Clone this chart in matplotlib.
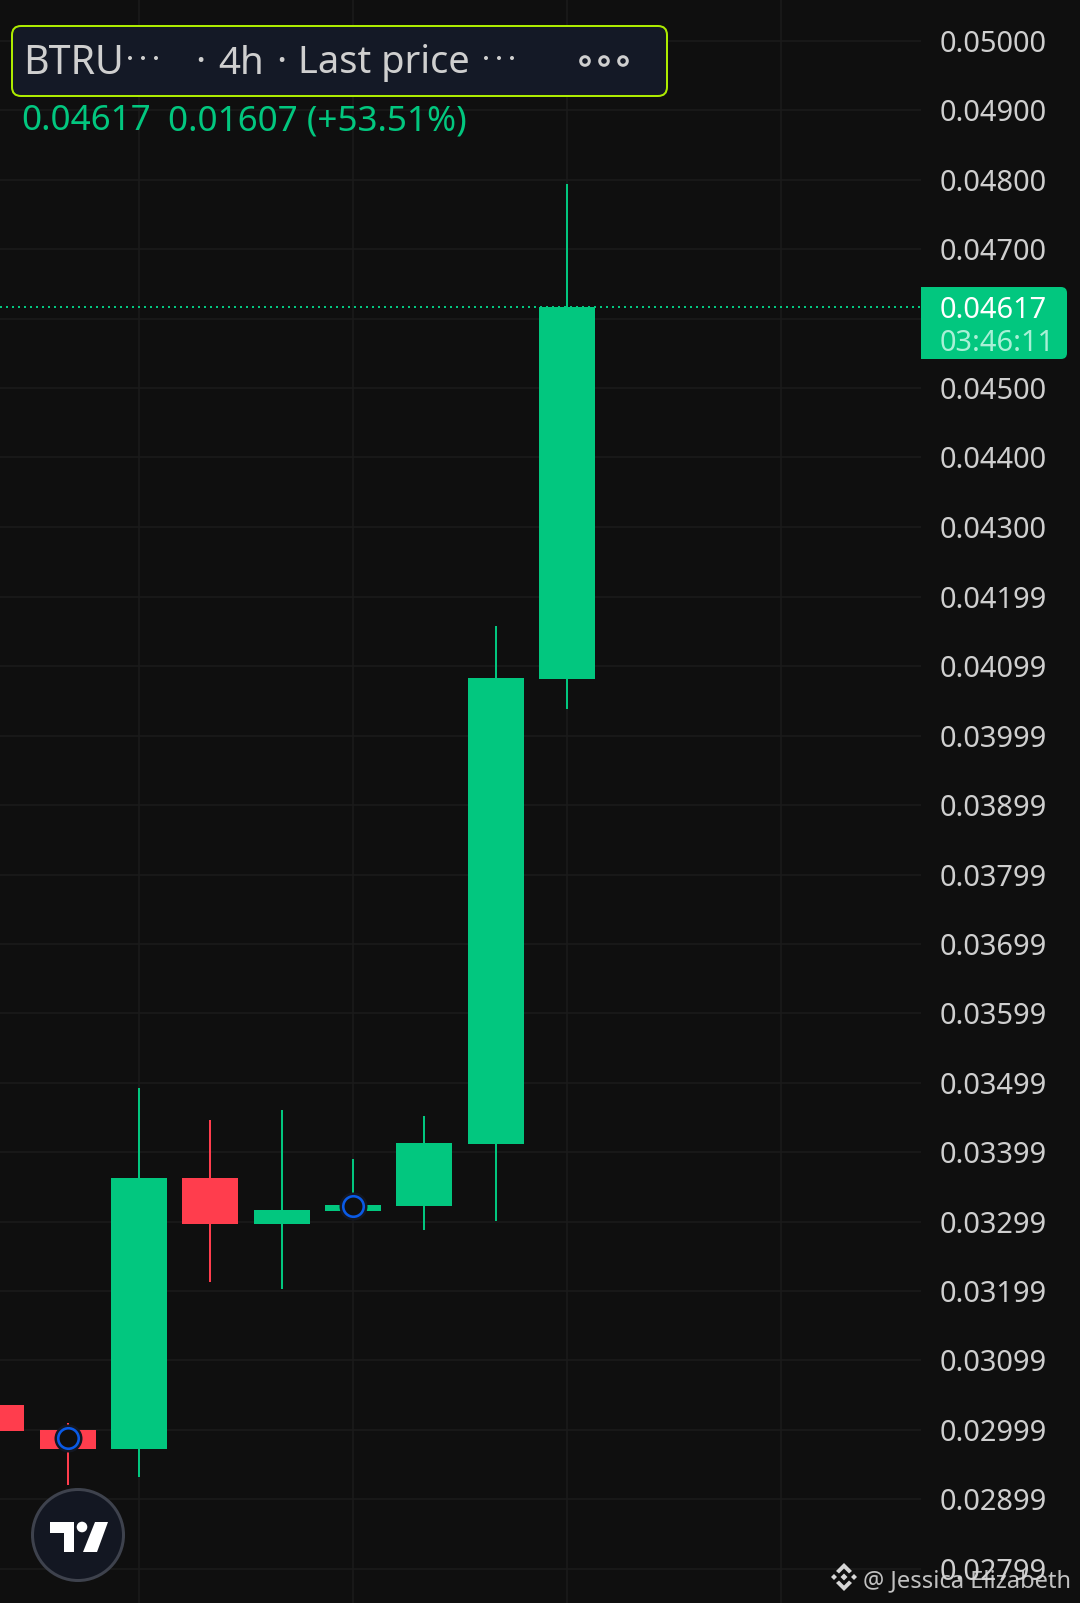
import matplotlib
matplotlib.use("Agg")
import matplotlib.pyplot as plt
from matplotlib.patches import FancyBboxPatch, Rectangle, Circle, Polygon

# ---- data ----
candle_idx = [-1, 0, 1, 2, 3, 4, 5, 6, 7]
opens  = [0.03035, 0.02999, 0.02971, 0.03362, 0.03295, 0.03314, 0.03321, 0.03411, 0.04081]
closes = [0.02997, 0.02971, 0.03362, 0.03295, 0.03316, 0.03323, 0.03412, 0.04082, 0.04617]
highs  = [0.03035, 0.03009, 0.03491, 0.03445, 0.03459, 0.03389, 0.03451, 0.04157, 0.04794]
lows   = [0.02997, 0.02919, 0.02931, 0.03212, 0.03202, 0.03314, 0.03287, 0.03300, 0.04037]
marker_idx = [0, 4]
marker_prices = [0.02987, 0.03321]
last_price = 0.04617
price_ticks = [0.05000, 0.04900, 0.04800, 0.04700, 0.04600, 0.04500, 0.04400, 0.04300,
               0.04199, 0.04099, 0.03999, 0.03899, 0.03799, 0.03699, 0.03599, 0.03499,
               0.03399, 0.03299, 0.03199, 0.03099, 0.02999, 0.02899, 0.02799]
tick_labels = ["0.05000", "0.04900", "0.04800", "0.04700", "", "0.04500", "0.04400", "0.04300",
               "0.04199", "0.04099", "0.03999", "0.03899", "0.03799", "0.03699", "0.03599", "0.03499",
               "0.03399", "0.03299", "0.03199", "0.03099", "0.02999", "0.02899", "0.02799"]
time_grid = [1, 4, 7, 10]

W, H = 1080, 1603
BG, GRID = "#0F0F0F", "#1B1B1B"
UP, DOWN = "#02C77F", "#FF3D4D"
TXT = "#CFCFCF"
FONT = "Noto Sans"
px = 0.72  # points per pixel at dpi 100

plt.rcParams["font.family"] = [FONT, "DejaVu Sans"]
fig = plt.figure(figsize=(W / 100, H / 100), dpi=100, facecolor=BG)

# ---- price chart ----
ax = fig.add_axes([0, 0, 921 / W, 1], facecolor=BG)
ax.set_xlim(-0.9500, 11.967)
ax.set_ylim(0.027493, 0.050591)
for s in ax.spines.values():
    s.set_visible(False)
ax.set_axisbelow(True)
ax.grid(True, color=GRID, lw=1.5 * px)
ax.set_xticks(time_grid)
ax.tick_params(axis="x", length=0, labelbottom=False)
ax.yaxis.tick_right()
ax.set_yticks(price_ticks)
ax.set_yticklabels(tick_labels)
ax.tick_params(axis="y", length=0, pad=19 * px, labelsize=29 * px, labelcolor=TXT)

colors = [UP if c >= o else DOWN for o, c in zip(opens, closes)]
ax.vlines(candle_idx, lows, highs, colors=colors, lw=2 * px, zorder=2)
ax.bar(candle_idx, [abs(c - o) for o, c in zip(opens, closes)],
       bottom=[min(o, c) for o, c in zip(opens, closes)],
       width=0.785, color=colors, linewidth=0, zorder=3)
ax.axhline(last_price, color=UP, lw=2 * px, ls=(0, (1, 2)), zorder=4)
ax.plot(marker_idx, marker_prices, ls="none", marker="o", ms=28 * px, mfc="#131722",
        mec="#131722", mew=0, zorder=5)
ax.plot(marker_idx, marker_prices, ls="none", marker="o", ms=20.5 * px, mfc=BG,
        mec="#0A5AE6", mew=2.6 * px, zorder=6)

# ---- chrome overlay in pixel coordinates ----
ov = fig.add_axes([0, 0, 1, 1], facecolor="none")
ov.set_xlim(0, W)
ov.set_ylim(H, 0)
ov.axis("off")

ov.add_patch(FancyBboxPatch((12, 26), 655, 70, boxstyle="round,pad=0,rounding_size=9",
                            fc="#141926", ec="#ADEB00", lw=2 * px, zorder=5))
hdr = dict(color=TXT, fontsize=38.5 * px, va="center_baseline", ha="left", zorder=6)
ov.text(23, 59, "BTRU", **dict(hdr, fontsize=39.5 * px))
ov.text(195, 59, "·", **hdr)
ov.text(218, 59, "4h", **hdr)
ov.text(276, 59, "·", **hdr)
ov.text(298, 59, "Last price", **dict(hdr, fontsize=38 * px))
for x0 in (130, 143, 156, 486, 499, 512):
    ov.add_patch(Circle((x0, 58), 2.0, fc=TXT, ec="none", zorder=6))
for x0 in (585, 604, 623):
    ov.add_patch(Circle((x0, 61), 4.3, fc="none", ec=TXT, lw=3 * px, zorder=6))

ov.text(21, 117, f"{last_price:.5f}", color=UP, fontsize=35 * px, va="center_baseline", ha="left")
ov.text(168.5, 117, "0.01607 (+53.51%)", color=UP, fontsize=35 * px, va="center_baseline", ha="left")

# last-price tag
ov.add_patch(FancyBboxPatch((921, 287), 146, 72, boxstyle="round,pad=0,rounding_size=6",
                            fc=UP, ec="none", zorder=5))
ov.add_patch(Rectangle((921, 287), 20, 72, fc=UP, ec="none", zorder=5))
ov.text(940, 307, f"{last_price:.5f}", color="white", fontsize=29 * px,
        va="center_baseline", ha="left", zorder=6)
ov.text(940, 340, "03:46:11", color="#A9F0D6", fontsize=29 * px,
        va="center_baseline", ha="left", zorder=6)

# TradingView badge
ov.add_patch(Circle((78, 1535), 45.5, fc="#131722", ec="#3E424D", lw=3 * px, zorder=5))
ov.add_patch(Polygon([(50, 1522), (74, 1522), (74, 1552), (63.5, 1552), (63.5, 1533), (50, 1533)],
                     closed=True, fc="white", ec="none", zorder=6))
ov.add_patch(Circle((82, 1527), 5.3, fc="white", ec="none", zorder=6))
ov.add_patch(Polygon([(95, 1522), (108, 1522), (97, 1552), (83, 1552)],
                     closed=True, fc="white", ec="none", zorder=6))

# watermark
WM = "#D6D6D6"
cx, cy = 844, 1577
ov.add_patch(Polygon([(cx, cy - 3.5), (cx + 3.5, cy), (cx, cy + 3.5), (cx - 3.5, cy)], fc=WM, ec="none", zorder=7))
for dx in (-10, 10):
    ov.add_patch(Polygon([(cx + dx, cy - 3), (cx + dx + 3, cy), (cx + dx, cy + 3), (cx + dx - 3, cy)],
                         fc=WM, ec="none", zorder=7))
for sgn in (-1, 1):
    ov.add_patch(Polygon([(cx - 8, cy + sgn * 6), (cx, cy + sgn * 14), (cx + 8, cy + sgn * 6),
                          (cx + 5, cy + sgn * 3.5), (cx, cy + sgn * 8.5), (cx - 5, cy + sgn * 3.5)],
                         fc=WM, ec="none", zorder=7))
ov.text(863, 1578, "@ Jessica Elizabeth", color=WM, alpha=0.9, fontsize=23.7 * px,
        va="center_baseline", ha="left", zorder=7)

fig.savefig("out.png", dpi=100, facecolor=BG)
